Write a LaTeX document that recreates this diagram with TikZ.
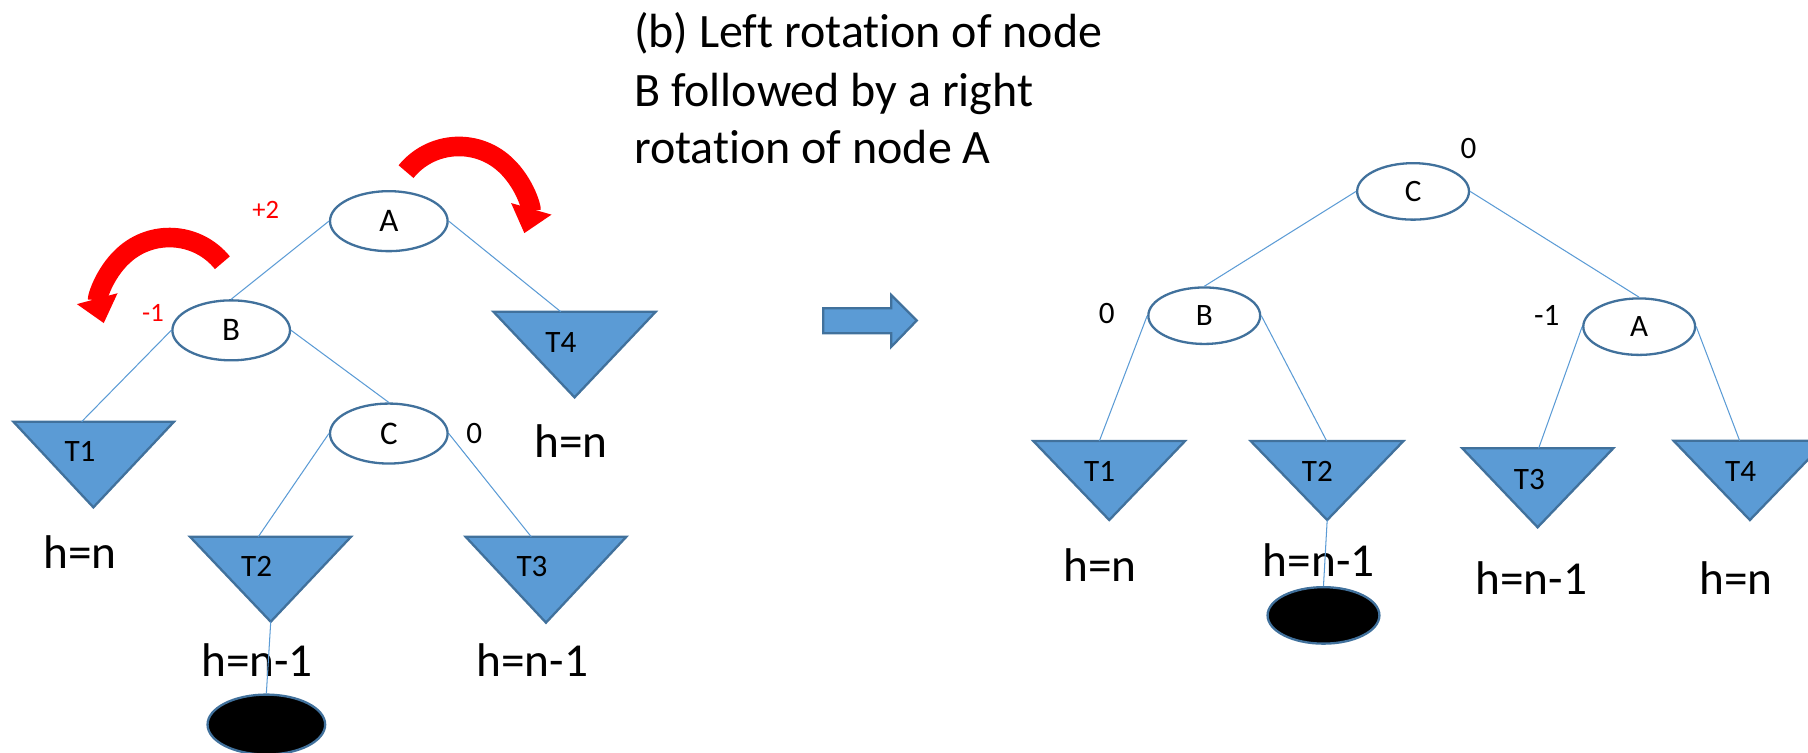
\documentclass[tikz,border=0pt]{standalone}
\usepackage{fontspec}
\setmainfont{Carlito}[Ligatures=NoCommon]
\usetikzlibrary{shapes.geometric,arrows.meta}
\definecolor{treeblue}{HTML}{5B9BD5}
\definecolor{treeline}{HTML}{41719C}
\tikzset{
  avl/.style={ellipse, draw=treeline, line width=1pt, fill=white, inner sep=0pt},
  bigavl/.style={avl, minimum width=51pt, minimum height=26pt, font=\fontsize{14.3pt}{17pt}\selectfont},
  smallavl/.style={avl, minimum width=48.5pt, minimum height=24.5pt, font=\fontsize{13.5pt}{16pt}\selectfont},
  subtree/.style={fill=treeblue, draw=treeline, line width=1pt},
  branch/.style={draw=treeblue, line width=0.45pt},
  tname/.style={inner sep=0pt, font=\fontsize{13.5pt}{16pt}\selectfont},
  bal/.style={inner sep=0pt, font=\fontsize{13.5pt}{16pt}\selectfont},
  redbal/.style={inner sep=0pt, text=red, font=\fontsize{11.5pt}{14pt}\selectfont},
  hlabel/.style={inner sep=0pt, anchor=base, font=\fontsize{20.5pt}{25pt}\selectfont},
  note/.style={inner sep=0pt, anchor=base west, font=\fontsize{20.8pt}{25pt}\selectfont},
  newleaf/.style={ellipse, fill=black, draw=treeline, line width=1pt, inner sep=0pt},
  rotarrow/.style={draw=red, line width=8.5pt, -{Triangle[length=11pt,width=17.5pt]}},
}
\begin{document}
\begin{tikzpicture}[x=0.5pt,y=-0.5pt]
    \useasboundingbox (0,0) rectangle (1568,653);
    \clip (0,0) rectangle (1568,653);

    % Caption
    \node[note] (cap1) at (549.5,41.3) {(b) Left rotation of node};
    \node[note] (cap2) at (549.5,92) {B followed by a right};
    \node[note] (cap3) at (549.5,142.2) {rotation of node A};

    % Left tree (before)
    \node[bigavl] (lA) at (337.2,191.8) {A};
    \node[bigavl] (lB) at (200.5,286.5) {B};
    \node[bigavl] (lC) at (337.2,376) {C};

    \draw[subtree] (11.6,365.7) -- (150.9,365.7) -- (81,440) -- cycle;
    \draw[subtree] (164.8,465.5) -- (304.4,465.5) -- (234.8,539.2) -- cycle;
    \draw[subtree] (403.8,465.5) -- (543.2,465.5) -- (473.5,540) -- cycle;
    \draw[subtree] (427.9,270.3) -- (568.7,270.3) -- (498.3,344.6) -- cycle;
    \coordinate (lT1top) at (70.8,365.7);
    \coordinate (lT2top) at (224,465.5);
    \coordinate (lT3top) at (460.7,465.5);
    \coordinate (lT4top) at (486.3,270.3);
    \coordinate (lT2tip) at (234.8,539.2);
    \node[tname] (lT1) at (69.4,391.7) {T1};
    \node[tname] (lT2) at (222.6,491.2) {T2};
    \node[tname] (lT3) at (461.4,491.5) {T3};
    \node[tname] (lT4) at (486.4,297) {T4};

    \draw[branch] (lA.west) -- (lB.north);
    \draw[branch] (lA.east) -- (lT4top);
    \draw[branch] (lB.west) -- (lT1top);
    \draw[branch] (lB.east) -- (lC.north);
    \draw[branch] (lC.west) -- (lT2top);
    \draw[branch] (lC.east) -- (lT3top);

    \node[redbal] (lbalA) at (230.4,182.2) {+2};
    \node[redbal] (lbalB) at (132.7,271.8) {-1};
    \node[bal] (lbalC) at (411.2,375.8) {0};

    \node[hlabel] (lh1) at (69.4,493) {h=n};
    \node[hlabel] (lh2) at (223,586.9) {h=n-1};
    \node[hlabel] (lh3) at (461.7,586.9) {h=n-1};
    \node[hlabel] (lh4) at (495.2,397) {h=n};

    \node[newleaf, minimum width=51pt, minimum height=26pt] (lleaf) at (231,628.4) {};
    \draw[branch] (lT2tip) -- (lleaf.north);

    % Rotation arrows
    \draw[rotarrow] ([shift={(-141:59)}]398,186) arc[start angle=-141, end angle=16, radius=59];
    \draw[rotarrow] ([shift={(-39:59)}]147,265) arc[start angle=-39, end angle=-195, radius=59];

    % Block arrow
    \draw[fill=treeblue, draw=treeline, line width=1pt] (714,267.4) -- (773,267.4) -- (773,255.9)
        -- (795,278) -- (773,300.7) -- (773,289) -- (714,289) -- cycle;

    % Right tree (after)
    \node[smallavl] (rC) at (1225.5,166) {C};
    \node[smallavl] (rB) at (1044.4,273.8) {B};
    \node[smallavl] (rA) at (1421.6,283.3) {A};

    \draw[subtree] (896.2,382.5) -- (1027.7,382.5) -- (962,451) -- cycle;
    \draw[subtree] (1084.7,382.5) -- (1217.1,382.5) -- (1151,451) -- cycle;
    \draw[subtree] (1268.2,388.8) -- (1399.1,388.8) -- (1333.5,457.3) -- cycle;
    \draw[subtree] (1451.4,382.2) -- (1583.8,382.2) -- (1517.6,451) -- cycle;
    \coordinate (rT1top) at (953.4,382.5);
    \coordinate (rT2top) at (1150.6,382.5);
    \coordinate (rT3top) at (1334.4,388.8);
    \coordinate (rT4top) at (1508.7,382.2);
    \coordinate (rT2tip) at (1151,451);
    \node[tname] (rT1) at (953.7,409) {T1};
    \node[tname] (rT2) at (1142.5,409) {T2};
    \node[tname] (rT3) at (1326.3,415.7) {T3};
    \node[tname] (rT4) at (1509.6,409) {T4};

    \draw[branch] (rC.west) -- (rB.north);
    \draw[branch] (rC.east) -- (rA.north);
    \draw[branch] (rB.west) -- (rT1top);
    \draw[branch] (rB.east) -- (rT2top);
    \draw[branch] (rA.west) -- (rT3top);
    \draw[branch] (rA.east) -- (rT4top);

    \node[bal] (rbalC) at (1273.5,128.6) {0};
    \node[bal] (rbalB) at (959.8,271.7) {0};
    \node[bal] (rbalA) at (1341.4,273.2) {-1};

    \node[hlabel] (rh1) at (953.8,504.5) {h=n};
    \node[hlabel] (rh2) at (1143.7,499.6) {h=n-1};
    \node[hlabel] (rh3) at (1328,516) {h=n-1};
    \node[hlabel] (rh4) at (1505.7,516) {h=n};

    \node[newleaf, minimum width=48.5pt, minimum height=24.5pt] (rleaf) at (1147.8,533.7) {};
    \draw[branch] (rT2tip) -- (rleaf.north);
\end{tikzpicture}
\end{document}
